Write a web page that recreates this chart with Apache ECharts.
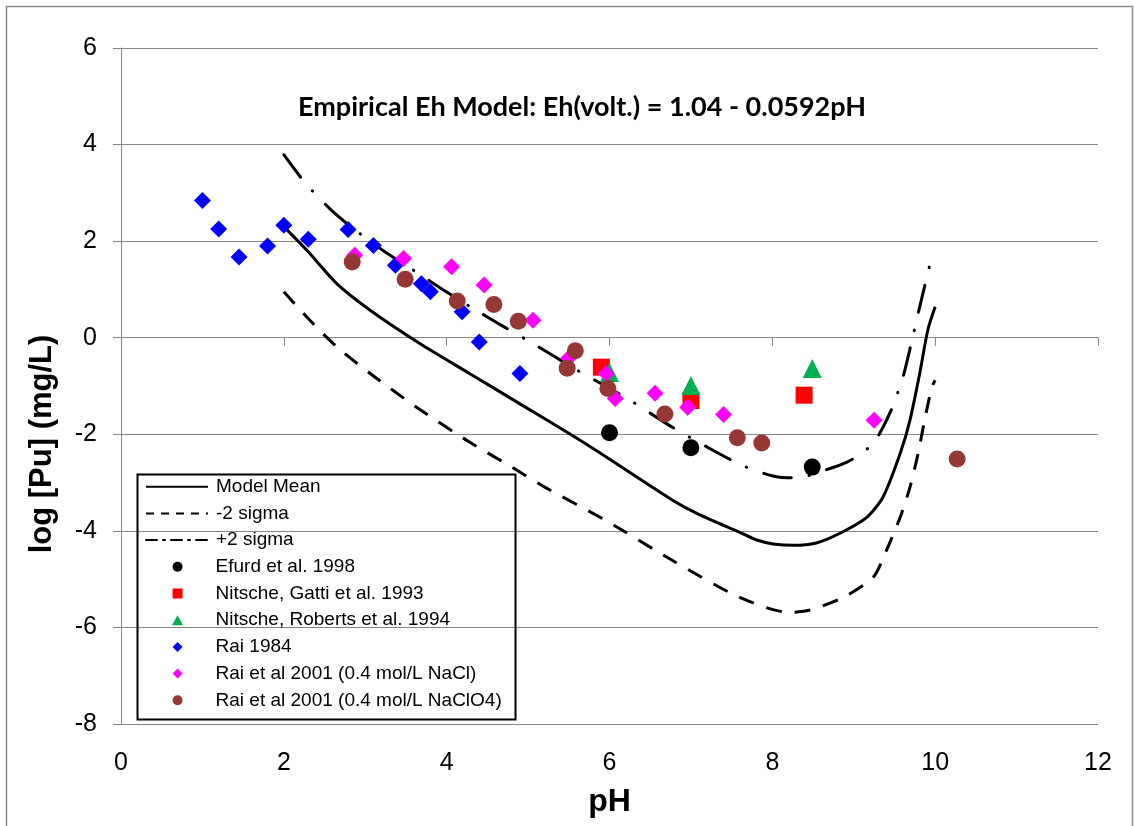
<!DOCTYPE html>
<html>
<head>
<meta charset="utf-8">
<script src="https://cdn.jsdelivr.net/npm/echarts@6/dist/echarts.min.js"></script>
<style>
html,body{margin:0;padding:0;background:#fff;}
#chart{width:1134px;height:826px;}
</style>
</head>
<body>
<div id="chart"></div>
<script>
// ---- Data ----
const xTicks = [0, 2, 4, 6, 8, 10, 12];
const yTicks = [-8, -6, -4, -2, 0, 2, 4, 6];

const modelMean = [[2.0,2.3],[2.3,1.78],[2.65,1.12],[3.06,0.57],[3.67,-0.12],[4.28,-0.74],[4.9,-1.37],[5.5,-1.98],[5.96,-2.47],[6.78,-3.37],[7.11,-3.67],[7.6,-4.03],[7.81,-4.19],[8.01,-4.27],[8.26,-4.3],[8.54,-4.25],[8.83,-4.05],[9.16,-3.72],[9.36,-3.3],[9.57,-2.4],[9.69,-1.71],[9.81,-0.74],[9.91,0.16],[10.0,0.64]];
const minus2Sigma = [[2.0,0.95],[2.32,0.36],[2.65,-0.19],[3.06,-0.74],[3.63,-1.44],[4.28,-2.16],[4.8,-2.68],[5.21,-3.1],[5.96,-3.79],[6.78,-4.62],[7.6,-5.38],[8.21,-5.69],[8.46,-5.64],[8.87,-5.38],[9.24,-4.96],[9.4,-4.41],[9.57,-3.72],[9.69,-3.1],[9.79,-2.4],[9.87,-1.71],[9.96,-1.02],[10.0,-0.88]];
const plus2Sigma = [[2.0,3.79],[2.26,3.21],[2.56,2.68],[2.83,2.29],[3.24,1.78],[3.59,1.4],[3.96,0.99],[4.32,0.61],[4.71,0.22],[5.06,-0.12],[5.6,-0.67],[6.19,-1.23],[6.74,-1.82],[7.27,-2.33],[7.68,-2.68],[8.09,-2.89],[8.32,-2.9],[8.58,-2.78],[8.91,-2.58],[9.12,-2.37],[9.28,-2.09],[9.46,-1.5],[9.61,-0.78],[9.71,-0.09],[9.81,0.64],[9.96,1.69]];

const efurd1998 = [[6.0,-1.97],[7.0,-2.28],[8.49,-2.68]];
const nitscheGatti1993 = [[5.9,-0.61],[7.0,-1.3],[8.39,-1.19]];
const nitscheRoberts1994 = [[6.0,-0.72],[7.0,-0.99],[8.49,-0.64]];
const rai1984 = [[1.0,2.84],[1.2,2.25],[1.45,1.67],[1.8,1.9],[2.0,2.33],[2.3,2.04],[2.79,2.24],[3.1,1.91],[3.37,1.5],[3.69,1.12],[3.8,0.95],[4.19,0.54],[4.4,-0.09],[4.9,-0.74]];
const rai2001NaCl = [[2.87,1.71],[3.47,1.64],[4.06,1.47],[4.46,1.09],[5.06,0.36],[5.5,-0.42],[5.96,-0.74],[6.07,-1.26],[6.56,-1.15],[6.96,-1.44],[7.4,-1.59],[9.25,-1.71]];
const rai2001NaClO4 = [[2.84,1.57],[3.49,1.21],[4.13,0.76],[4.58,0.69],[4.88,0.34],[5.58,-0.27],[5.48,-0.63],[5.98,-1.05],[6.68,-1.58],[7.57,-2.07],[7.87,-2.18],[10.27,-2.51]];

const seriesNames = ['Model Mean','-2 sigma','+2 sigma','Efurd et al. 1998','Nitsche, Gatti et al. 1993','Nitsche, Roberts et al. 1994','Rai 1984','Rai et al 2001 (0.4 mol/L NaCl)','Rai et al 2001 (0.4 mol/L NaClO4)'];
const titleText = 'Empirical Eh Model: Eh(volt.) = 1.04 - 0.0592pH';
const xName = 'pH';
const yName = 'log [Pu] (mg/L)';

// ---- Chart ----
const FONT = "'Liberation Sans', Arial, sans-serif";
const GREY = '#868686';
const chart = echarts.init(document.getElementById('chart'), null, {renderer: 'canvas'});

const diamondIcon = 'path://M1,0L2,1L1,2L0,1Z';
const squareIcon = 'path://M0,0L2,0L2,2L0,2Z';
const triangleIcon = 'path://M1,0L2,1.8L0,1.8Z';

function lineSeries(name, data, lineType, cap) {
  return {
    name, type: 'line', data, symbol: 'none', smooth: 0.25,
    lineStyle: {color: '#000', width: 3, type: lineType, cap: cap || 'butt'},
    itemStyle: {color: '#000'}, z: 2, silent: true
  };
}
function scatterSeries(name, data, symbol, size, color) {
  return {name, type: 'scatter', data, symbol, symbolSize: size, itemStyle: {color, opacity: 1}, z: 3};
}

const option = {
  animation: false,
  backgroundColor: '#fff',
  title: {
    text: titleText, left: 577, top: 89, textAlign: 'center',
    textStyle: {fontFamily: 'Lato', fontWeight: 'bold', fontSize: 27, color: '#000'}
  },
  grid: {left: 121, right: 36, top: 48, bottom: 102, containLabel: false},
  xAxis: {
    type: 'value', min: 0, max: 12, interval: 2,
    name: xName, nameLocation: 'middle', nameGap: 62,
    nameTextStyle: {fontFamily: FONT, fontWeight: 'bold', fontSize: 32, color: '#000'},
    axisLine: {show: true, lineStyle: {color: GREY, width: 1}},
    axisTick: {show: true, inside: false, length: 8, lineStyle: {color: GREY}},
    axisLabel: {fontFamily: FONT, fontSize: 25, color: '#000', margin: 27,
      formatter: v => xTicks.indexOf(v) >= 0 ? String(v) : ''},
    splitLine: {show: false}
  },
  yAxis: {
    type: 'value', min: -8, max: 6, interval: 2,
    name: yName, nameLocation: 'middle', nameGap: 63, nameRotate: 90,
    nameTextStyle: {fontFamily: FONT, fontWeight: 'bold', fontSize: 31, color: '#000', padding: [0, 116, 0, 0]},
    axisLine: {show: true, lineStyle: {color: GREY, width: 1}},
    axisTick: {show: true, inside: false, length: 8, lineStyle: {color: GREY}},
    axisLabel: {fontFamily: FONT, fontSize: 25, color: '#000', margin: 24,
      formatter: v => yTicks.indexOf(v) >= 0 ? String(v) : ''},
    splitLine: {show: true, lineStyle: {color: GREY, width: 1}}
  },
  legend: [
    {
      orient: 'vertical', left: 145, top: 476.7, padding: 0,
      itemWidth: 62, itemHeight: 14, itemGap: 6.7,
      textStyle: {fontFamily: FONT, fontSize: 19, color: '#000', lineHeight: 20, padding: [0, 0, 0, 3]},
      data: [
        {name: seriesNames[0], itemStyle: {opacity: 0}, lineStyle: {color: '#000', width: 2, type: 'solid'}},
        {name: seriesNames[1], itemStyle: {opacity: 0}, lineStyle: {color: '#000', width: 2, type: [8, 7]}},
        {name: seriesNames[2], itemStyle: {opacity: 0}, lineStyle: {color: '#000', width: 2, type: [11, 6, 2, 6]}}
      ],
      selectedMode: false
    },
    {
      orient: 'vertical', left: 172, top: 556.8, padding: 0,
      itemWidth: 66, itemHeight: 10, itemGap: 6.7,
      textStyle: {fontFamily: FONT, fontSize: 19, color: '#000', lineHeight: 20},
      data: [
        {name: seriesNames[3], icon: 'circle'},
        {name: seriesNames[4], icon: squareIcon},
        {name: seriesNames[5], icon: triangleIcon},
        {name: seriesNames[6], icon: diamondIcon},
        {name: seriesNames[7], icon: diamondIcon},
        {name: seriesNames[8], icon: 'circle'}
      ],
      selectedMode: false
    }
  ],
  graphic: [
    {type: 'rect', left: 135, top: 472, shape: {width: 378, height: 245},
     style: {fill: 'none', stroke: '#000', lineWidth: 2}, z: 10, silent: true},
    {type: 'rect', left: 4, top: 4, shape: {width: 1126, height: 860},
     style: {fill: 'none', stroke: '#8a8a8a', lineWidth: 1.5}, z: 10, silent: true}
  ],
  series: [
    lineSeries(seriesNames[0], modelMean, 'solid'),
    lineSeries(seriesNames[1], minus2Sigma, [16, 13]),
    lineSeries(seriesNames[2], plus2Sigma, [28, 18, 0.5, 18], 'round'),
    scatterSeries(seriesNames[3], efurd1998, 'circle', 17, '#000000'),
    scatterSeries(seriesNames[4], nitscheGatti1993, 'rect', 17, '#FF0000'),
    scatterSeries(seriesNames[5], nitscheRoberts1994, 'triangle', 19, '#00B050'),
    scatterSeries(seriesNames[6], rai1984, 'diamond', 17, '#0000FF'),
    scatterSeries(seriesNames[7], rai2001NaCl, 'diamond', 17, '#FF00FF'),
    scatterSeries(seriesNames[8], rai2001NaClO4, 'circle', 17, '#953735')
  ]
};
chart.setOption(option);
</script>
</body>
</html>
